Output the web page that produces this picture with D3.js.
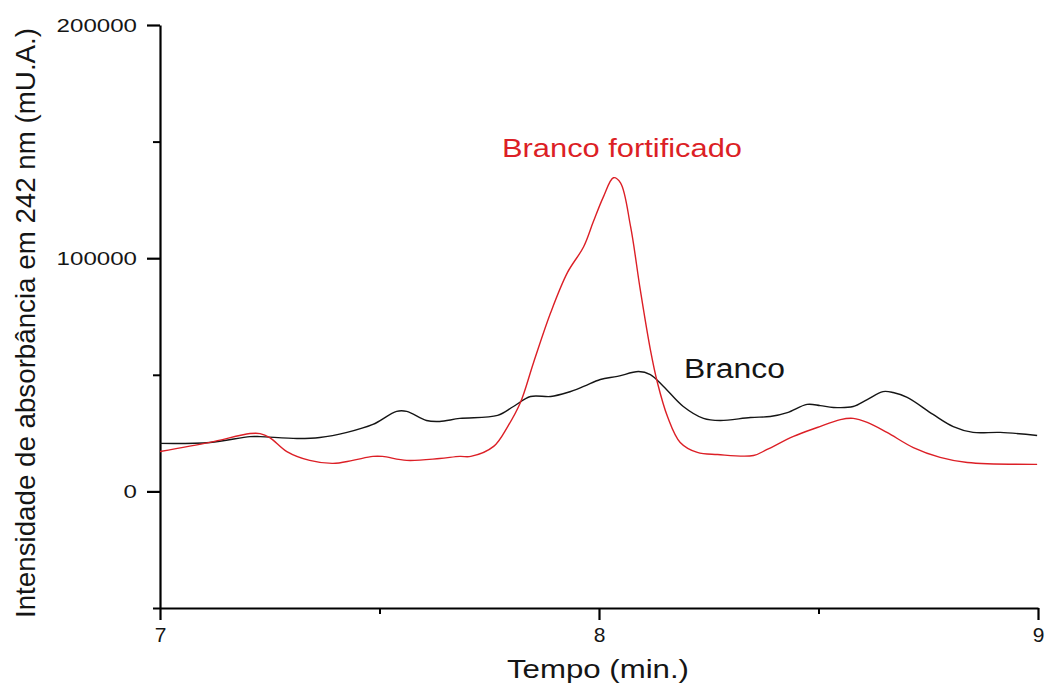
<!DOCTYPE html>
<html>
<head>
<meta charset="utf-8">
<script src="https://cdn.jsdelivr.net/npm/d3@7"></script>
<style>
  html, body { margin: 0; padding: 0; background: #fff; }
  svg { display: block; font-family: "Liberation Sans", Arial, sans-serif; }
</style>
</head>
<body>
<svg id="chart" width="1045" height="686"></svg>
<script>
// ---- data ----
const brancoTime = [7.000, 7.114, 7.205, 7.228, 7.312, 7.364, 7.426, 7.485, 7.539, 7.562, 7.607, 7.637, 7.683,
  7.769, 7.805, 7.844, 7.890, 7.928, 7.965, 8.003, 8.042, 8.090, 8.117, 8.147, 8.192, 8.238, 8.276, 8.345,
  8.390, 8.429, 8.474, 8.504, 8.534, 8.579, 8.611, 8.647, 8.670, 8.702, 8.761, 8.807, 8.852, 8.914, 8.998];
const brancoValue = [20600, 21000, 23500, 23500, 22700, 23100, 25300, 28700, 34300, 34300, 30400, 30000, 31300,
  32600, 36400, 40700, 40700, 42400, 45000, 48000, 49300, 51400, 50100, 45000, 36400, 31300, 30400, 31700,
  32100, 33800, 37300, 36800, 36000, 36400, 39400, 42800, 42400, 40300, 33000, 27800, 25300, 25300, 24000];

const fortTime = [7.000, 7.114, 7.205, 7.228, 7.250, 7.289, 7.341, 7.394, 7.439, 7.485, 7.507, 7.562, 7.637,
  7.683, 7.708, 7.760, 7.792, 7.821, 7.851, 7.890, 7.928, 7.965, 7.987, 8.010, 8.033, 8.049, 8.072, 8.094,
  8.117, 8.133, 8.156, 8.185, 8.224, 8.270, 8.352, 8.383, 8.443, 8.497, 8.550, 8.579, 8.611, 8.656, 8.716,
  8.777, 8.839, 8.998];
const fortValue = [17100, 21000, 24800, 24800, 23100, 17100, 13300, 12000, 13300, 15000, 15000, 13300, 14100,
  15000, 15000, 19300, 27800, 38100, 55300, 76700, 93800, 104900, 115600, 126300, 134500, 132300, 113500, 86500,
  60800, 46700, 32100, 21000, 16700, 15800, 15400, 18000, 23600, 27400, 30800, 31300, 29600, 25300, 18800,
  14600, 12400, 11600];

const xMajorTicks = [7, 8, 9];
const xMinorTicks = [7.5, 8.5];
const yMajorTicks = [0, 100000, 200000];
const yMinorTicks = [-50000, 50000, 150000];

const xTitle = "Tempo (min.)";
const yTitle = "Intensidade de absorbância em 242 nm (mU.A.)";
const seriesNames = ["Branco", "Branco fortificado"];

// ---- layout ----
const svg = d3.select("#chart");
const red = "#dc1f26";
const ink = "#151515";

const x = d3.scaleLinear().domain([7, 9]).range([160, 1038]);
const y = d3.scaleLinear().domain([-50000, 200000]).range([608, 25]);

// minor ticks
svg.append("g").attr("transform", "translate(0,608)")
  .call(d3.axisBottom(x).tickValues(xMinorTicks).tickSize(6).tickSizeOuter(0).tickFormat(""))
  .call(g => g.select(".domain").remove())
  .call(g => g.selectAll("line").attr("stroke-width", 2));
svg.append("g").attr("transform", "translate(160,0)")
  .call(d3.axisLeft(y).tickValues(yMinorTicks).tickSize(7).tickSizeOuter(0).tickFormat(""))
  .call(g => g.select(".domain").remove())
  .call(g => g.selectAll("line").attr("stroke-width", 2));

// x axis
const gx = svg.append("g").attr("transform", "translate(0,608)")
  .call(d3.axisBottom(x).tickValues(xMajorTicks).tickSize(12).tickSizeOuter(0).tickPadding(7).tickFormat(d3.format("d")));
gx.select(".domain").attr("stroke-width", 2.2);
gx.selectAll("line").attr("stroke-width", 2.2);
gx.selectAll("text").attr("font-size", 21).attr("fill", ink)
  .attr("font-family", "Liberation Sans, Arial, sans-serif");

// y axis
const gy = svg.append("g").attr("transform", "translate(160,0)")
  .call(d3.axisLeft(y).tickValues(yMajorTicks).tickSize(13).tickSizeOuter(0).tickPadding(10).tickFormat(d3.format("d")));
gy.select(".domain").attr("stroke-width", 2.2);
gy.selectAll("line").attr("stroke-width", 2.2);
gy.selectAll("text").attr("font-size", 19).attr("fill", ink)
  .attr("font-family", "Liberation Sans, Arial, sans-serif")
  .each(function(d) {
    const s = String(d);
    d3.select(this).attr("textLength", 13.4 * s.length).attr("lengthAdjust", "spacingAndGlyphs");
  });

// lines
const line = d3.line().x(d => x(d[0])).y(d => y(d[1])).curve(d3.curveCatmullRom.alpha(0.5));
const brancoData = brancoTime.map((t, i) => [t, brancoValue[i]]);
const fortData = fortTime.map((t, i) => [t, fortValue[i]]);

svg.append("path").datum(brancoData).attr("d", line)
  .attr("fill", "none").attr("stroke", ink).attr("stroke-width", 1.4);
svg.append("path").datum(fortData).attr("d", line)
  .attr("fill", "none").attr("stroke", red).attr("stroke-width", 1.4);

// series labels
svg.append("text").attr("x", 684).attr("y", 378)
  .attr("font-size", 27).attr("fill", ink)
  .attr("textLength", 101).attr("lengthAdjust", "spacingAndGlyphs")
  .text(seriesNames[0]);
svg.append("text").attr("x", 502).attr("y", 157)
  .attr("font-size", 26).attr("fill", red)
  .attr("textLength", 240).attr("lengthAdjust", "spacingAndGlyphs")
  .text(seriesNames[1]);

// axis titles
svg.append("text").attr("x", 507).attr("y", 678)
  .attr("font-size", 25).attr("fill", ink)
  .attr("textLength", 182).attr("lengthAdjust", "spacingAndGlyphs")
  .text(xTitle);
svg.append("text")
  .attr("transform", "translate(35,323) rotate(-90)")
  .attr("text-anchor", "middle")
  .attr("font-size", 28).attr("fill", ink)
  .attr("textLength", 590).attr("lengthAdjust", "spacingAndGlyphs")
  .text(yTitle);
</script>
</body>
</html>
